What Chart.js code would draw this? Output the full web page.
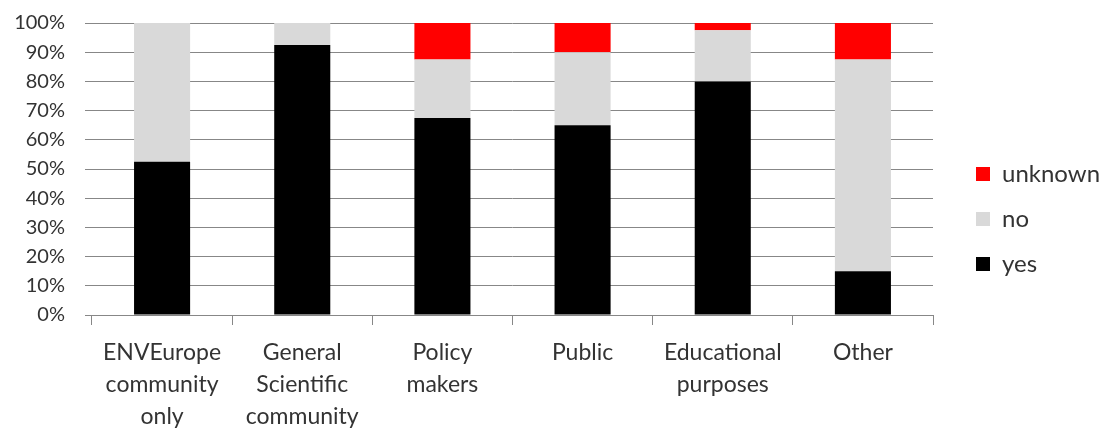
<!DOCTYPE html>
<html>
<head>
<meta charset="utf-8">
<title>Data use by target group</title>
<script src="https://cdn.jsdelivr.net/npm/chart.js@4.4.1/dist/chart.umd.min.js"></script>
<style>
  html, body { margin: 0; padding: 0; background: #fff; }
  #wrap { width: 1103px; height: 430px; position: relative; }
</style>
</head>
<body>
<div id="wrap"><canvas id="usageChart"></canvas></div>
<script>
// Categories (multi-line labels as in the original)
const categories = [
  ['ENVEurope', 'community', 'only'],
  ['General', 'Scientific', 'community'],
  ['Policy', 'makers'],
  'Public',
  ['Educational', 'purposes'],
  'Other'
];

// Share of answers in % (40 respondents)
const yesValues = [52.5, 92.5, 67.5, 65, 80, 15];
const noValues = [47.5, 7.5, 20, 25, 17.5, 72.5];
const unknownValues = [0, 0, 12.5, 10, 2.5, 12.5];

const yTicks = [0, 10, 20, 30, 40, 50, 60, 70, 80, 90, 100];

Chart.defaults.font.family = "Lato, 'Open Sans', sans-serif";
Chart.defaults.color = '#333333';

const gridColor = '#878787';

document.addEventListener('DOMContentLoaded', function() {
  const ctx = document.getElementById('usageChart');

  new Chart(ctx, {
    type: 'bar',
    data: {
      labels: categories,
      datasets: [
        { label: 'yes', data: yesValues, backgroundColor: '#000000' },
        { label: 'no', data: noValues, backgroundColor: '#d9d9d9' },
        { label: 'unknown', data: unknownValues, backgroundColor: '#ff0000' }
      ]
    },
    options: {
      responsive: true,
      maintainAspectRatio: false,
      animation: false,
      datasets: {
        bar: { barPercentage: 0.4, categoryPercentage: 1, borderWidth: 0 }
      },
      layout: {
        padding: { top: 8, right: 0, bottom: 0, left: 0 }
      },
      scales: {
        x: {
          stacked: true,
          grid: {
            display: true,
            drawOnChartArea: false,
            drawTicks: true,
            tickLength: 10,
            color: gridColor
          },
          border: { display: true, color: gridColor },
          ticks: {
            maxRotation: 0,
            autoSkip: false,
            padding: 11,
            font: { size: 23, lineHeight: 1.4 }
          },
          afterFit: function(scale) { scale.height = 115; }
        },
        y: {
          stacked: true,
          min: 0,
          max: 100,
          afterBuildTicks: function(scale) {
            scale.ticks = yTicks.map(v => ({ value: v }));
          },
          grid: {
            color: gridColor,
            tickLength: 7
          },
          border: { display: false },
          ticks: {
            padding: 20,
            font: { size: 20 },
            callback: function(value) { return value + '%'; }
          },
          afterFit: function(scale) {
            scale.width = 92;
            scale.paddingTop = 23;
          }
        },
        // empty axis that only keeps a gap before the legend
        gap: {
          position: 'right',
          display: true,
          grid: { display: false },
          border: { display: false },
          ticks: { display: false },
          afterFit: function(scale) { scale.width = 22; }
        }
      },
      plugins: {
        legend: {
          position: 'right',
          reverse: true,
          maxWidth: 148,
          labels: {
            boxWidth: 14,
            boxHeight: 14,
            padding: 21,
            font: { size: 24 },
            color: '#333333'
          }
        },
        tooltip: { enabled: false }
      }
    }
  });
});
</script>
</body>
</html>
